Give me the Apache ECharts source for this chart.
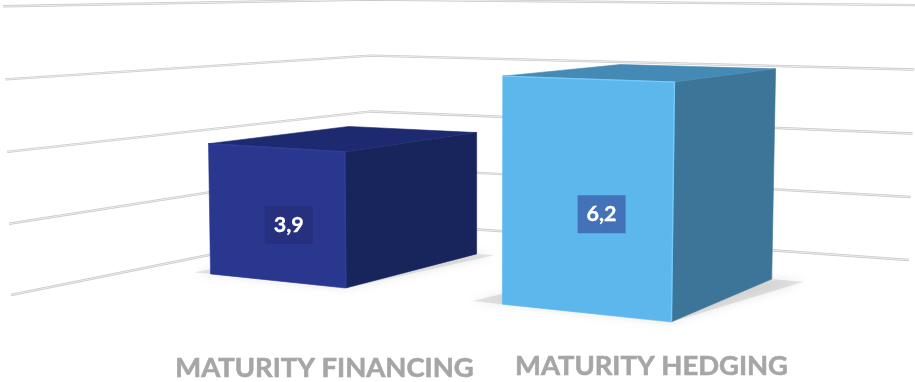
<!DOCTYPE html>
<html>
<head>
<meta charset="utf-8">
<style>html,body{margin:0;padding:0;background:#fff}#chart{width:915px;height:382px}</style>
<script src="https://cdn.jsdelivr.net/npm/echarts@6/dist/echarts.min.js"></script>
</head>
<body>
<div id="chart"></div>
<script>
// Chart data
const categories = ['MATURITY FINANCING', 'MATURITY HEDGING'];
const maturities = [3.9, 6.2];
const valueTicks = [0, 2, 4, 6, 8];

// Projective camera: u runs along the category axis, w runs into the depth of
// the floor, lift is the share of the value axis. All three are in 0..1.
const CAM = {
  a: 474.2, b: 493.2, c: 11,
  d: -21.1, e: 5.9, f: 295,
  g: -0.2791, h: 0.3554, i: -0.0167,
  n: -7.92, m0: -288.8, m1: 27.2, m2: -12.8
};
function project(u, w, lift) {
  const den = CAM.g * u + CAM.h * w + CAM.i * lift + 1;
  const px = CAM.a * u + CAM.b * w + CAM.c + CAM.n * lift;
  const py = CAM.d * u + CAM.e * w + CAM.f + (CAM.m0 + CAM.m1 * u + CAM.m2 * w) * lift;
  return [px / den, py / den];
}

// Footprint of each box, relative to the centre of its category band
const BOX = {
  span: [[-0.119, 0.1355], [-0.109, 0.129]],
  front: 0.31,
  back: [0.715, 0.706]
};
const SKINS = [
  { front: '#29378f', side: '#18255d', top: '#1d2a6f', edge: '#2f3e9c', tag: '#27307f' },
  { front: '#5cb7ec', side: '#3c7597', top: '#4589b5', edge: '#74cbfb', tag: '#4472b8' }
];
const NAME_POS = [[324.5, 368], [651.5, 366]];
const NAME_FONT = 'bold 27.4px Lato, "Open Sans", sans-serif';

// Wall gridlines, one for each tick of the value axis
function renderWallLine(params, api) {
  const cs = params.coordSys;
  const lift = (cs.y + cs.height - api.coord([0, api.value(0)])[1]) / cs.height;
  const pts = [project(0, 0, lift), project(0, 1, lift), project(1, 1, lift)];
  return {
    type: 'group',
    children: [
      { type: 'polyline', shape: { points: pts }, silent: true,
        style: { stroke: '#c9c9c9', lineWidth: 2.4, fill: null } },
      { type: 'polyline', shape: { points: pts }, silent: true,
        style: { stroke: '#efefef', lineWidth: 0.9, fill: null } }
    ]
  };
}

// A solid box standing on the floor, its height
function renderBox(params, api) {
  const cs = params.coordSys;
  const idx = api.value(0);
  const val = api.value(1);
  const skin = SKINS[idx];
  const c = (api.coord([idx, 0])[0] - cs.x) / cs.width;
  const u0 = c + BOX.span[idx][0];
  const u1 = c + BOX.span[idx][1];
  const w0 = BOX.front;
  const w1 = BOX.back[idx];
  const lift = (cs.y + cs.height - api.coord([idx, val])[1]) / cs.height;

  const fl0 = project(u0, w0, 0), fr0 = project(u1, w0, 0), br0 = project(u1, w1, 0);
  const flt = project(u0, w0, lift), frt = project(u1, w0, lift);
  const brt = project(u1, w1, lift), blt = project(u0, w1, lift);
  const tagAt = project(u0 + 0.6 * (u1 - u0), w0, 0.43 * lift);

  const poly = (points, fill) => ({
    type: 'polygon', shape: { points }, silent: true,
    style: { fill, stroke: fill, lineWidth: 0.6 }
  });
  // Soft contact shadow on the floor, growing with the height of the box
  const reach = 0.012 + 0.0055 * val;
  const shadow = [
    project(u0 - reach, w0, 0),
    project(u1, w0 - 0.006, 0),
    project(u1 + reach, w1, 0),
    project(u0, w1, 0)
  ];
  return {
    type: 'group',
    children: [
      { type: 'polygon', shape: { points: shadow }, silent: true,
        style: { fill: 'rgba(140,140,140,0.22)', shadowBlur: 10, shadowColor: 'rgba(120,120,120,0.8)' } },
      poly([fr0, br0, brt, frt], skin.side),
      poly([flt, frt, brt, blt], skin.top),
      poly([fl0, fr0, frt, flt], skin.front),
      { type: 'polyline', shape: { points: [flt, frt, fr0] }, silent: true,
        style: { stroke: skin.edge, lineWidth: 1.4, fill: null } },
      { type: 'text', silent: true,
        style: {
          text: String(val).replace('.', ','), x: tagAt[0], y: tagAt[1],
          align: 'center', verticalAlign: 'middle',
          font: 'bold 21.5px Lato, "Open Sans", sans-serif', fill: '#ffffff',
          stroke: '#ffffff', lineWidth: 0.3,
          backgroundColor: skin.tag, padding: [8, 9]
        } },
      { type: 'text', silent: true,
        style: {
          text: categories[idx], x: NAME_POS[idx][0], y: NAME_POS[idx][1],
          align: 'center', verticalAlign: 'middle',
          font: NAME_FONT, fill: '#a6a6a6', stroke: '#a6a6a6', lineWidth: 0.6
        } }
    ]
  };
}

const chart = echarts.init(document.getElementById('chart'), null, { renderer: 'canvas' });
chart.setOption({
  animation: false,
  backgroundColor: '#ffffff',
  grid: { left: 0, right: 0, top: 0, bottom: 0 },
  xAxis: { type: 'category', data: categories, show: false },
  yAxis: { type: 'value', min: 0, max: 8, interval: 2, show: false },
  series: [
    { type: 'custom', coordinateSystem: 'cartesian2d', clip: false, renderItem: renderWallLine,
      encode: { y: 0 }, data: valueTicks.map(v => [v]), z: 1 },
    { type: 'custom', coordinateSystem: 'cartesian2d', clip: false, renderItem: renderBox,
      encode: { x: 0, y: 1 }, data: maturities.map((v, i) => [i, v]), z: 2 }
  ]
});
</script>
</body>
</html>
